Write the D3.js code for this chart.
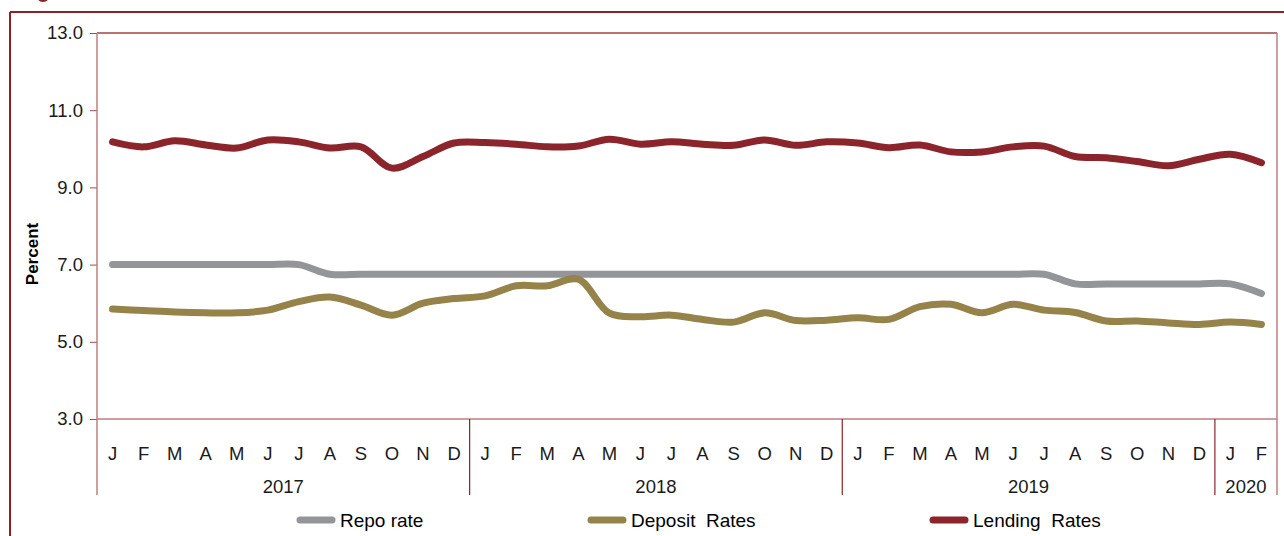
<!DOCTYPE html>
<html>
<head>
<meta charset="utf-8">
<script src="https://cdn.jsdelivr.net/npm/d3@7"></script>
<style>
  body { margin: 0; background: #fff; }
  svg { display: block; font-family: "Liberation Sans", Arial, sans-serif; }
</style>
</head>
<body>
<div id="chart"></div>
<script>
// months Jan 2017 - Feb 2020
const monthLetters = ["J","F","M","A","M","J","J","A","S","O","N","D"];
const years = [
  { label: "2017", count: 12 },
  { label: "2018", count: 12 },
  { label: "2019", count: 12 },
  { label: "2020", count: 2 }
];
const yTicks = [3, 5, 7, 9, 11, 13];

const repoRate = [
  7.0, 7.0, 7.0, 7.0, 7.0, 7.0, 7.0, 6.75, 6.75, 6.75, 6.75, 6.75,
  6.75, 6.75, 6.75, 6.75, 6.75, 6.75, 6.75, 6.75, 6.75, 6.75, 6.75, 6.75,
  6.75, 6.75, 6.75, 6.75, 6.75, 6.75, 6.75, 6.5, 6.5, 6.5, 6.5, 6.5,
  6.5, 6.25
];
const depositRates = [
  5.85, 5.81, 5.77, 5.75, 5.75, 5.82, 6.04, 6.16, 5.95, 5.69, 6.0, 6.12,
  6.19, 6.45, 6.45, 6.62, 5.74, 5.65, 5.69, 5.58, 5.51, 5.75, 5.55, 5.56,
  5.62, 5.58, 5.91, 5.97, 5.75, 5.97, 5.82, 5.76, 5.54, 5.54, 5.49, 5.45,
  5.51, 5.45
];
const lendingRates = [
  10.18, 10.05, 10.21, 10.10, 10.02, 10.23, 10.18, 10.02, 10.05, 9.50, 9.80, 10.15,
  10.16, 10.12, 10.05, 10.07, 10.25, 10.12, 10.18, 10.12, 10.09, 10.23, 10.09, 10.18,
  10.15, 10.03, 10.10, 9.92, 9.92, 10.05, 10.07, 9.80, 9.77, 9.67, 9.56, 9.73,
  9.86, 9.64
];

const series = [
  { name: "Repo rate", values: repoRate, color: "#939598" },
  { name: "Deposit  Rates", values: depositRates, color: "#96834a" },
  { name: "Lending  Rates", values: lendingRates, color: "#8b252b" }
];

const W = 1284, H = 536;
const plotLeft = 97, plotRight = 1277, plotTop = 33, plotBottom = 419;
const frameRed = "#8b2229";
const axisPink = "#c27d81";

const months = [];
years.forEach(y => {
  for (let i = 0; i < y.count; i++) months.push({ key: y.label + "-" + i, letter: monthLetters[i], year: y.label });
});

const svg = d3.select("#chart").append("svg").attr("width", W).attr("height", H);

// outer frame
svg.append("line").attr("x1", 10).attr("x2", W).attr("y1", 12).attr("y2", 12)
  .attr("stroke", frameRed).attr("stroke-width", 2);
svg.append("line").attr("x1", 10).attr("x2", 10).attr("y1", 12).attr("y2", H)
  .attr("stroke", frameRed).attr("stroke-width", 2);
svg.append("circle").attr("cx", 43).attr("cy", -5).attr("r", 7).attr("fill", frameRed);

const x = d3.scaleBand().domain(months.map(d => d.key)).range([plotLeft, plotRight]);
const y = d3.scaleLinear().domain([3, 13]).range([plotBottom, plotTop]);

// y axis
const yAxis = svg.append("g").attr("transform", `translate(${plotLeft},0)`)
  .call(d3.axisLeft(y).tickValues(yTicks).tickFormat(d3.format(".1f")).tickSize(7).tickPadding(7));
yAxis.select(".domain").remove();
yAxis.selectAll(".tick line").attr("stroke", "#a8494f");
yAxis.selectAll(".tick text").attr("font-size", 18.5).attr("fill", "#1a1a1a")
  .attr("font-family", "Liberation Sans, Arial, sans-serif");

// plot frame lines
svg.append("line").attr("x1", plotLeft).attr("x2", plotRight).attr("y1", plotTop).attr("y2", plotTop)
  .attr("stroke", "#a3434a").attr("stroke-width", 1.5);
svg.append("line").attr("x1", plotLeft).attr("x2", plotRight).attr("y1", plotBottom).attr("y2", plotBottom)
  .attr("stroke", axisPink).attr("stroke-width", 1.5);
svg.append("line").attr("x1", plotLeft).attr("x2", plotLeft).attr("y1", plotTop).attr("y2", 495)
  .attr("stroke", axisPink).attr("stroke-width", 1.5);
svg.append("line").attr("x1", plotRight).attr("x2", plotRight).attr("y1", plotTop).attr("y2", 495)
  .attr("stroke", axisPink).attr("stroke-width", 1.5);

// year labels and separators
let idx = 0;
years.forEach((yr, i) => {
  const start = x(months[idx].key);
  const end = x(months[idx + yr.count - 1].key) + x.bandwidth();
  svg.append("text").attr("x", (start + end) / 2).attr("y", 493)
    .attr("text-anchor", "middle").attr("font-size", 18.5).attr("fill", "#1a1a1a").text(yr.label);
  if (i < years.length - 1) {
    svg.append("line").attr("x1", end).attr("x2", end).attr("y1", plotBottom).attr("y2", 495)
      .attr("stroke", frameRed).attr("stroke-width", 1.2);
  }
  idx += yr.count;
});

// month letters
svg.selectAll(".month").data(months).enter().append("text")
  .attr("class", "month")
  .attr("x", d => x(d.key) + x.bandwidth() / 2)
  .attr("y", 460)
  .attr("text-anchor", "middle").attr("font-size", 18.5).attr("fill", "#1a1a1a")
  .text(d => d.letter);

// y label
svg.append("text").attr("transform", "translate(38,254) rotate(-90)")
  .attr("text-anchor", "middle").attr("font-size", 17).attr("font-weight", "bold")
  .attr("fill", "#000").text("Percent");

// lines
const line = d3.line()
  .x((d, i) => x(months[i].key) + x.bandwidth() / 2)
  .y(d => y(d))
  .curve(d3.curveCatmullRom);

svg.selectAll(".series").data(series).enter().append("path")
  .attr("class", "series")
  .attr("d", d => line(d.values))
  .attr("fill", "none")
  .attr("stroke", d => d.color)
  .attr("stroke-width", 7)
  .attr("stroke-linecap", "round")
  .attr("stroke-linejoin", "round");

// legend
const legendX = [300, 591, 933];
const legend = svg.selectAll(".legend").data(series).enter().append("g")
  .attr("class", "legend")
  .attr("transform", (d, i) => `translate(${legendX[i]},520)`);
legend.append("line").attr("x1", 0).attr("x2", 32).attr("y1", 0).attr("y2", 0)
  .attr("stroke", d => d.color).attr("stroke-width", 7).attr("stroke-linecap", "round");
legend.append("text").attr("x", 40).attr("y", 7).attr("font-size", 19).attr("fill", "#000")
  .attr("xml:space", "preserve").style("white-space", "pre")
  .text(d => d.name);
</script>
</body>
</html>
